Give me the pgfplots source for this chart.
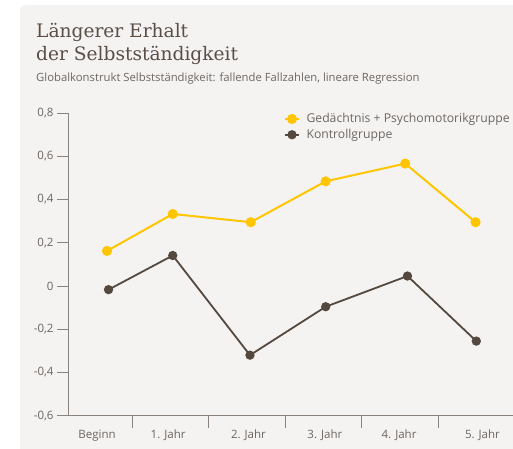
\documentclass[border=0pt]{standalone}
\usepackage{pgfplots}
\pgfplotsset{compat=1.18}
\usepackage{fontspec}
\setmainfont{Open Sans}
\newfontfamily\titlefont{DejaVu Serif}

\definecolor{panel}{HTML}{F4F3F1}
\definecolor{titlecol}{HTML}{5A4E47}
\definecolor{textcol}{HTML}{6E6661}
\definecolor{axiscol}{HTML}{8A827D}
\definecolor{gelb}{HTML}{FFC600}
\definecolor{braun}{HTML}{54483F}

\begin{document}
\begin{tikzpicture}
\useasboundingbox (0pt,0pt) rectangle (513pt,-448pt);
% panel
\fill[white] (0pt,0pt) rectangle (513pt,-448pt);
\fill[panel, rounded corners=6pt] (20pt,-5pt) rectangle (540pt,-480pt);

% titles
\node[anchor=base west, inner sep=0pt, text=titlecol,
      font=\titlefont\fontsize{18.6}{22}\selectfont] at (36pt,-37.3pt)
  {Längerer Erhalt};
\node[anchor=base west, inner sep=0pt, text=titlecol,
      font=\titlefont\fontsize{18.6}{22}\selectfont] at (36pt,-60.7pt)
  {der Selbstständigkeit};
\node[anchor=base west, inner sep=0pt, text=textcol,
      font=\fontsize{11.3}{13}\selectfont] at (36pt,-81.5pt)
  {Globalkonstrukt Selbstständigkeit: fallende Fallzahlen, lineare Regression};

\begin{axis}[
    at={(68pt,-415.7pt)}, anchor=south west,
    scale only axis,
    width=445pt, height=302.7pt,
    xmin=-0.34, xmax=5.48,
    ymin=-0.6, ymax=0.8,
    axis x line=bottom, axis y line=left,
    axis line style={draw=axiscol, line width=0.9pt, -},
    tick align=outside,
    major tick length=11pt,
    minor tick length=12pt,
    tick style={draw=axiscol, line width=0.9pt},
    xtick={0.04,0.97,2.02,3.02,3.99,5.08},
    xticklabels={Beginn,1. Jahr,2. Jahr,3. Jahr,4. Jahr,5. Jahr},
    major x tick style={draw=none},
    minor xtick={0.5,1.5,2.5,3.5,4.5},
    ytick={-0.6,-0.4,-0.2,0,0.2,0.4,0.6,0.8},
    yticklabels={{-0,6},{-0,4},{-0,2},{0},{0,2},{0,4},{0,6},{0,8}},
    ticklabel style={text=textcol, font=\fontsize{11.5}{13}\selectfont},
    legend style={at={(axis description cs:0.485,1.002)}, anchor=north west,
        draw=none, fill=none, text=textcol,
        font=\fontsize{12.2}{14}\selectfont,
        row sep=3pt, inner sep=0pt,
        nodes={inner xsep=6.5pt, inner ysep=1pt},
        cells={anchor=west}},
    legend image code/.code={
        \draw[mark repeat=2, mark phase=2]
        plot coordinates {(0pt,0pt) (7pt,0pt) (14pt,0pt)};},
    clip=false,
]
\addplot[gelb, line width=2pt, mark=*, mark size=4pt,
         mark options={fill=gelb, draw=none}] coordinates {
    (0.17,0.162) (1.03,0.333) (2.05,0.295) (3.03,0.484) (4.07,0.566) (4.99,0.295)
};
\addlegendentry{Gedächtnis + Psychomotorikgruppe}
\addplot[braun, line width=1.8pt, mark=*, mark size=3.7pt,
         mark options={fill=braun, draw=none}] coordinates {
    (0.19,-0.017) (1.03,0.141) (2.04,-0.320) (3.03,-0.096) (4.10,0.046) (5.00,-0.255)
};
\addlegendentry{Kontrollgruppe}
\end{axis}
\end{tikzpicture}
\end{document}
